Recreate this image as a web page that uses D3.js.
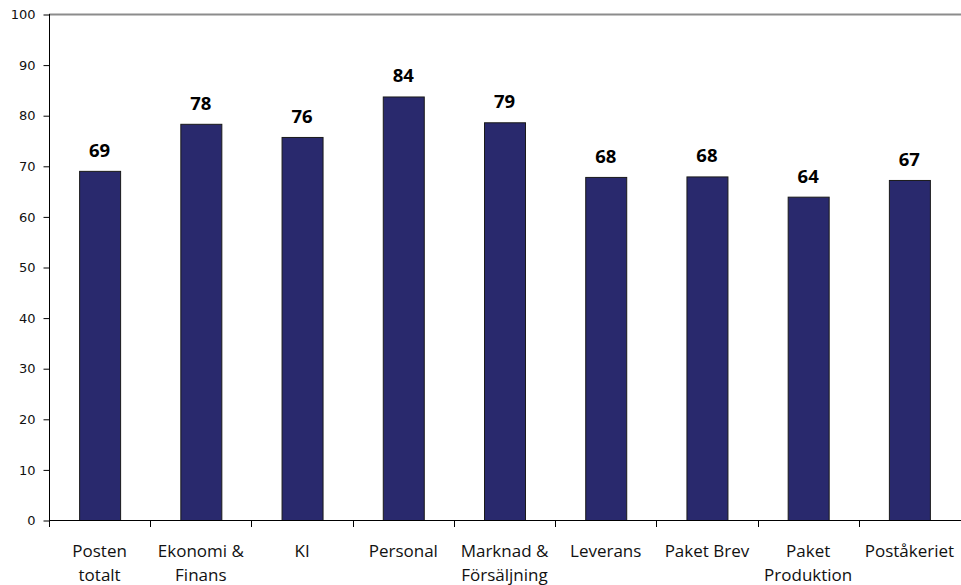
<!DOCTYPE html>
<html>
<head>
<meta charset="utf-8">
<script src="https://cdn.jsdelivr.net/npm/d3@7"></script>
<style>
  html, body { margin: 0; padding: 0; background: #fff; }
  svg { display: block; }
</style>
</head>
<body>
<svg id="chart" width="961" height="585"></svg>
<script>
// Survey index per business unit
const categories = ["Posten\ntotalt", "Ekonomi &\nFinans", "KI", "Personal", "Marknad &\nFörsäljning",
                    "Leverans", "Paket Brev", "Paket\nProduktion", "Poståkeriet"];
const values = [69.0, 78.3, 75.7, 83.7, 78.6, 67.8, 67.9, 63.9, 67.2];
const yTicks = [0, 10, 20, 30, 40, 50, 60, 70, 80, 90, 100];

const W = 961, H = 585;
const margin = { top: 14, right: 1, bottom: 65, left: 49 };

const svg = d3.select("#chart");

const x = d3.scaleBand()
  .domain(categories)
  .range([margin.left, W - margin.right])
  .paddingInner(0.595)
  .paddingOuter(0.2975);

const y = d3.scaleLinear()
  .domain([0, 100])
  .range([H - margin.bottom, margin.top]);

// top frame line
svg.append("line")
  .attr("x1", margin.left).attr("x2", W)
  .attr("y1", y(100) + 0.5).attr("y2", y(100) + 0.5)
  .attr("stroke", "#8c8c8c").attr("stroke-width", 2);

// bars
svg.append("g").selectAll("rect")
  .data(values)
  .join("rect")
  .attr("x", (d, i) => x(categories[i]) + 0.5)
  .attr("y", d => y(d) + 0.5)
  .attr("width", x.bandwidth())
  .attr("height", d => y(0) - y(d))
  .attr("fill", "#29296d")
  .attr("stroke", "#1a1a1a")
  .attr("stroke-width", 1);

// value labels
svg.append("g").selectAll("text")
  .data(values)
  .join("text")
  .attr("x", (d, i) => x(categories[i]) + x.bandwidth() / 2)
  .attr("y", d => y(d) - 14)
  .attr("text-anchor", "middle")
  .attr("font-family", "'Open Sans', sans-serif")
  .attr("font-weight", "bold")
  .attr("font-size", 18.5)
  .attr("fill", "#000")
  .text(d => Math.round(d));

// y axis
const yAxis = d3.axisLeft(y).tickValues(yTicks).tickSize(6).tickPadding(8);
const gy = svg.append("g")
  .attr("transform", `translate(${margin.left + 0.5},0.5)`)
  .call(yAxis);
gy.select(".domain").remove();
gy.selectAll(".tick line").attr("stroke", "#000");
gy.selectAll(".tick text")
  .attr("font-family", "'DejaVu Sans', Verdana, sans-serif")
  .attr("font-size", 13)
  .attr("fill", "#111");

// vertical axis line (extends slightly below baseline)
svg.append("line")
  .attr("x1", margin.left + 0.5).attr("x2", margin.left + 0.5)
  .attr("y1", y(100)).attr("y2", y(0) + 7)
  .attr("stroke", "#000").attr("stroke-width", 1);

// baseline
svg.append("line")
  .attr("x1", margin.left).attr("x2", W)
  .attr("y1", y(0) + 0.5).attr("y2", y(0) + 0.5)
  .attr("stroke", "#000").attr("stroke-width", 1);

// category boundary ticks
const bounds = d3.range(1, categories.length).map(i => margin.left + i * x.step());
svg.append("g").selectAll("line")
  .data(bounds)
  .join("line")
  .attr("x1", d => Math.round(d) + 0.5).attr("x2", d => Math.round(d) + 0.5)
  .attr("y1", y(0)).attr("y2", y(0) + 7)
  .attr("stroke", "#000");

// category labels
const cat = svg.append("g").selectAll("text")
  .data(categories)
  .join("text")
  .attr("x", d => x(d) + x.bandwidth() / 2)
  .attr("y", y(0) + 37)
  .attr("text-anchor", "middle")
  .attr("font-family", "'Open Sans', sans-serif")
  .attr("font-size", 17)
  .attr("fill", "#111");
cat.selectAll("tspan")
  .data(d => d.split("\n").map((t, i) => ({ t, i, x: x(d) + x.bandwidth() / 2 })))
  .join("tspan")
  .attr("x", d => d.x)
  .attr("dy", d => d.i === 0 ? 0 : 24)
  .text(d => d.t);
</script>
</body>
</html>
